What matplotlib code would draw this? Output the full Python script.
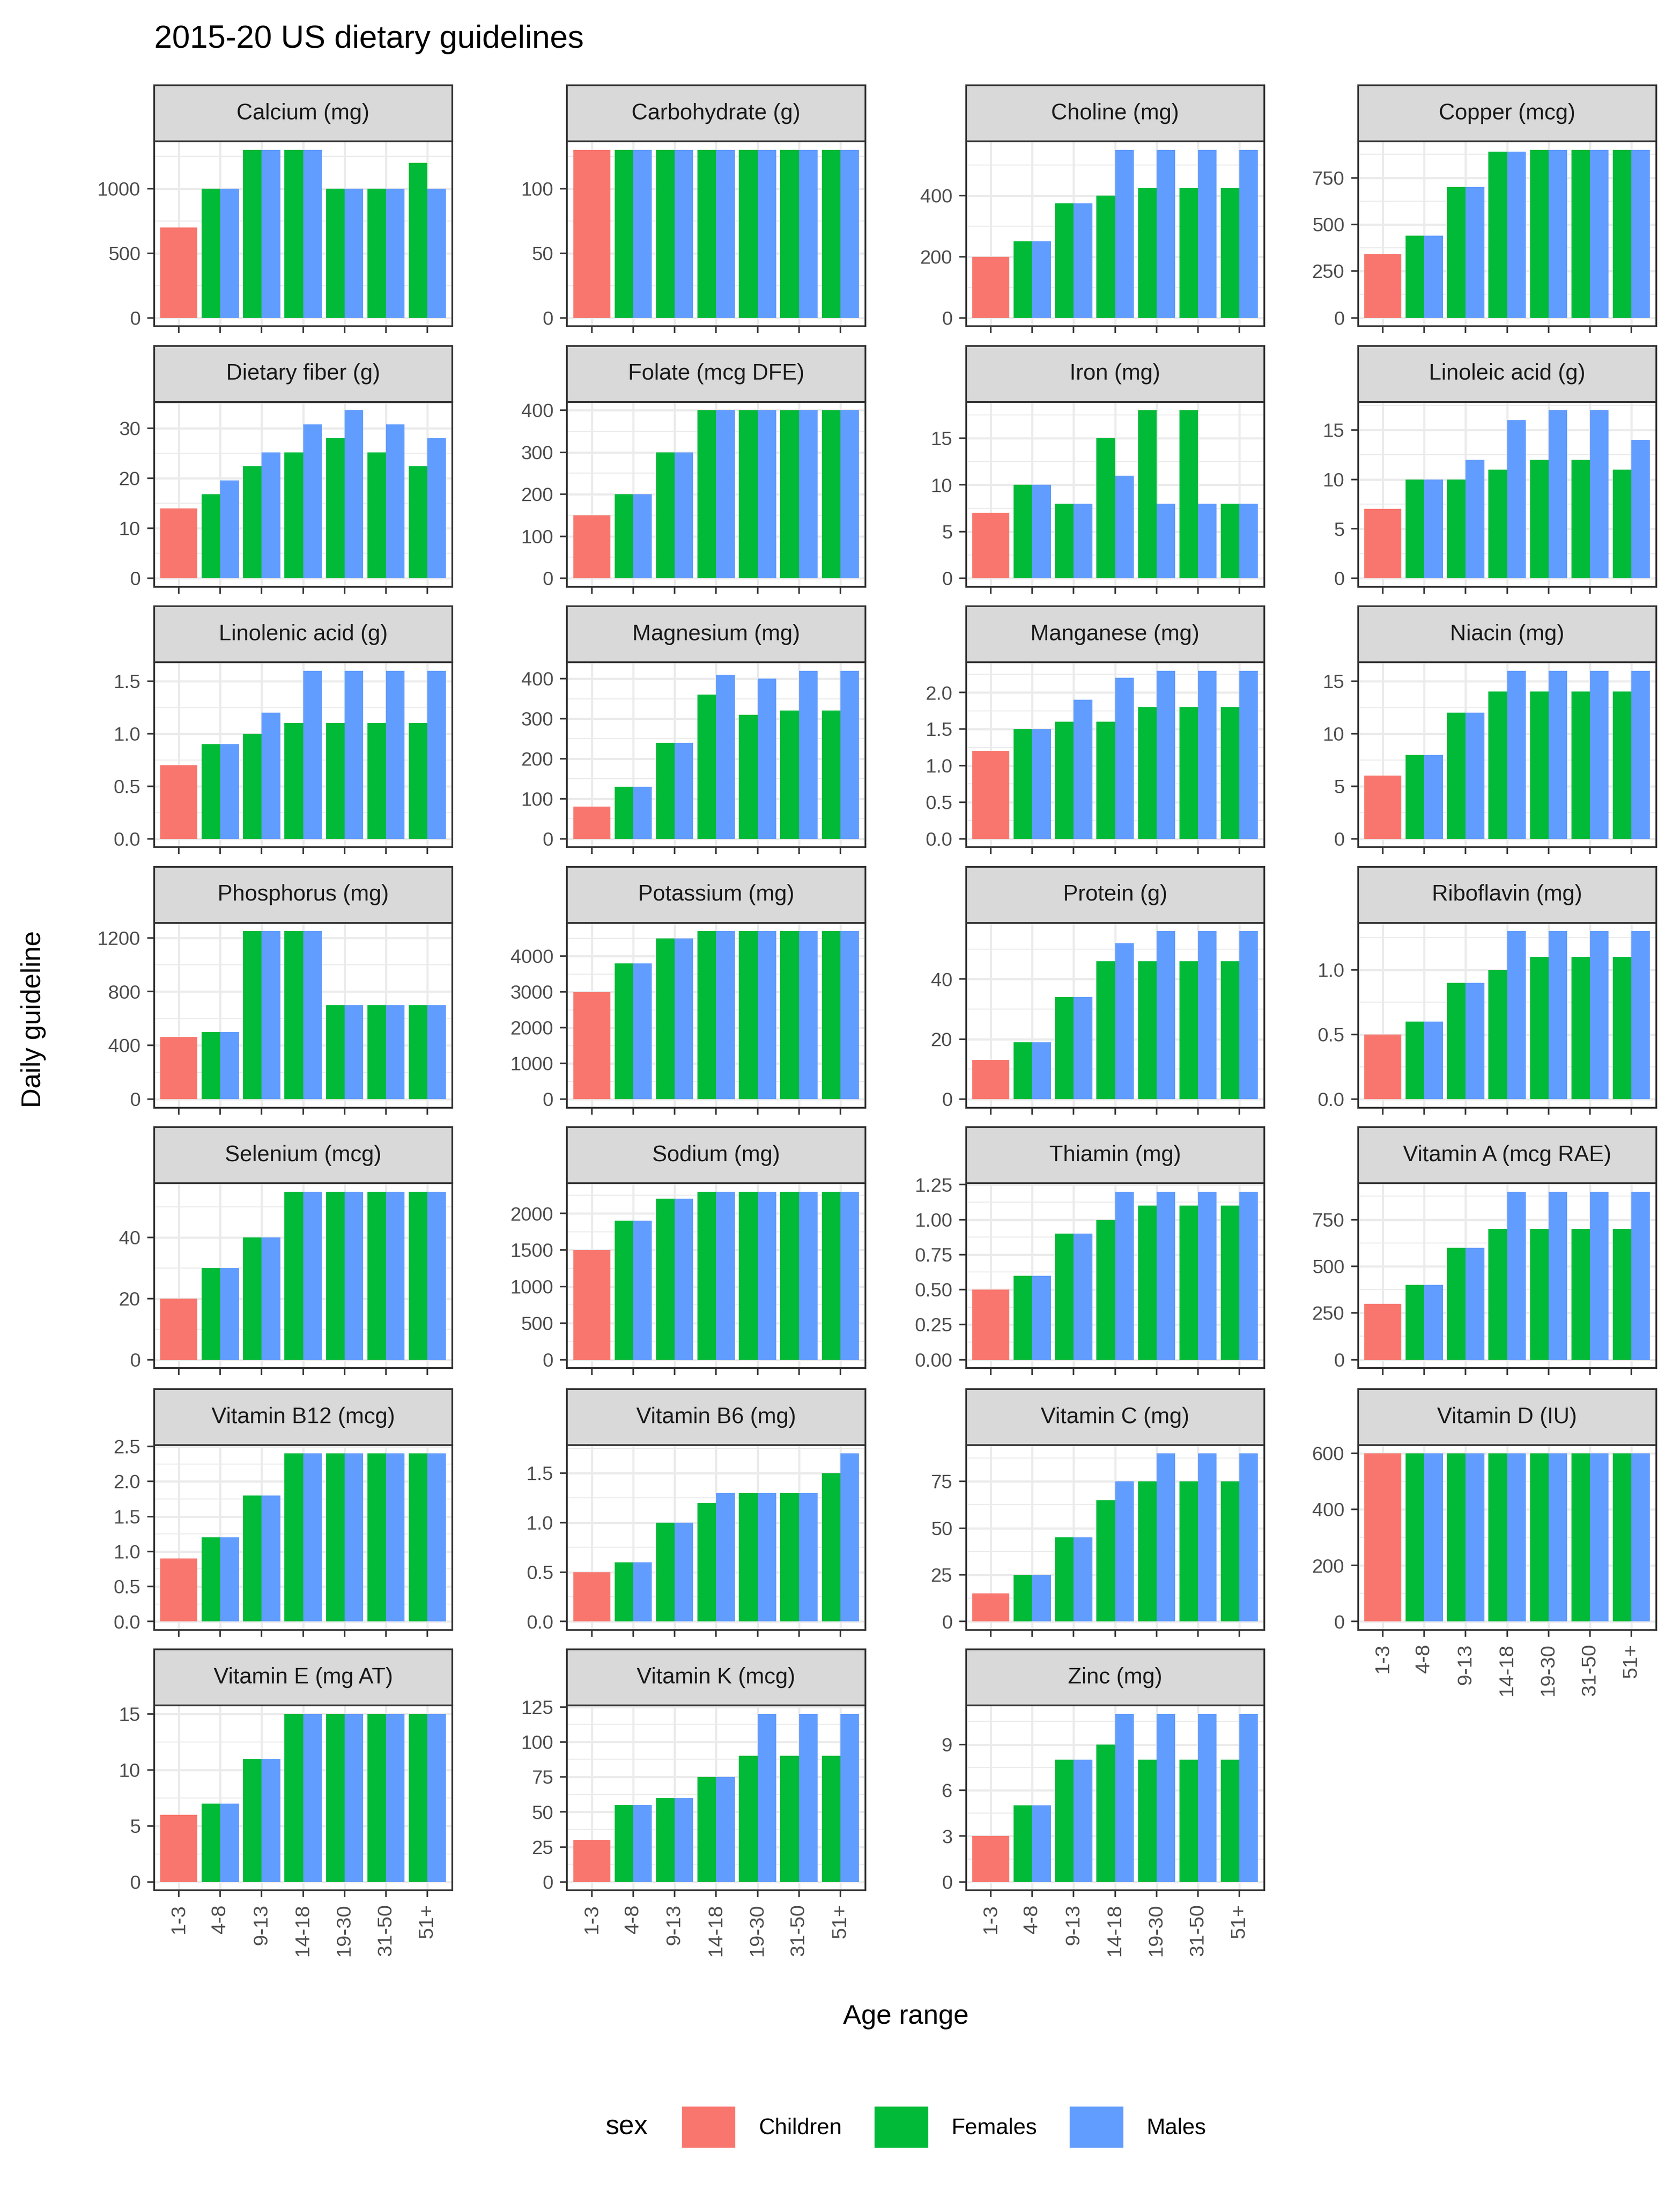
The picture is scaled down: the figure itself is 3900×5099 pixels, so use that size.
import numpy as np
import matplotlib.pyplot as plt
from matplotlib.patches import Rectangle, Patch

plt.rcParams['font.family'] = ['Liberation Sans', 'DejaVu Sans']

ages = ["1-3", "4-8", "9-13", "14-18", "19-30", "31-50", "51+"]

# name, children (1-3), females (4-8..51+), males (4-8..51+), tick step
nutrients = [
    ("Calcium (mg)", 700, [1000, 1300, 1300, 1000, 1000, 1200], [1000, 1300, 1300, 1000, 1000, 1000], 500),
    ("Carbohydrate (g)", 130, [130] * 6, [130] * 6, 50),
    ("Choline (mg)", 200, [250, 375, 400, 425, 425, 425], [250, 375, 550, 550, 550, 550], 200),
    ("Copper (mcg)", 340, [440, 700, 890, 900, 900, 900], [440, 700, 890, 900, 900, 900], 250),
    ("Dietary fiber (g)", 14, [16.8, 22.4, 25.2, 28, 25.2, 22.4], [19.6, 25.2, 30.8, 33.6, 30.8, 28], 10),
    ("Folate (mcg DFE)", 150, [200, 300, 400, 400, 400, 400], [200, 300, 400, 400, 400, 400], 100),
    ("Iron (mg)", 7, [10, 8, 15, 18, 18, 8], [10, 8, 11, 8, 8, 8], 5),
    ("Linoleic acid (g)", 7, [10, 10, 11, 12, 12, 11], [10, 12, 16, 17, 17, 14], 5),
    ("Linolenic acid (g)", 0.7, [0.9, 1.0, 1.1, 1.1, 1.1, 1.1], [0.9, 1.2, 1.6, 1.6, 1.6, 1.6], 0.5),
    ("Magnesium (mg)", 80, [130, 240, 360, 310, 320, 320], [130, 240, 410, 400, 420, 420], 100),
    ("Manganese (mg)", 1.2, [1.5, 1.6, 1.6, 1.8, 1.8, 1.8], [1.5, 1.9, 2.2, 2.3, 2.3, 2.3], 0.5),
    ("Niacin (mg)", 6, [8, 12, 14, 14, 14, 14], [8, 12, 16, 16, 16, 16], 5),
    ("Phosphorus (mg)", 460, [500, 1250, 1250, 700, 700, 700], [500, 1250, 1250, 700, 700, 700], 400),
    ("Potassium (mg)", 3000, [3800, 4500, 4700, 4700, 4700, 4700], [3800, 4500, 4700, 4700, 4700, 4700], 1000),
    ("Protein (g)", 13, [19, 34, 46, 46, 46, 46], [19, 34, 52, 56, 56, 56], 20),
    ("Riboflavin (mg)", 0.5, [0.6, 0.9, 1.0, 1.1, 1.1, 1.1], [0.6, 0.9, 1.3, 1.3, 1.3, 1.3], 0.5),
    ("Selenium (mcg)", 20, [30, 40, 55, 55, 55, 55], [30, 40, 55, 55, 55, 55], 20),
    ("Sodium (mg)", 1500, [1900, 2200, 2300, 2300, 2300, 2300], [1900, 2200, 2300, 2300, 2300, 2300], 500),
    ("Thiamin (mg)", 0.5, [0.6, 0.9, 1.0, 1.1, 1.1, 1.1], [0.6, 0.9, 1.2, 1.2, 1.2, 1.2], 0.25),
    ("Vitamin A (mcg RAE)", 300, [400, 600, 700, 700, 700, 700], [400, 600, 900, 900, 900, 900], 250),
    ("Vitamin B12 (mcg)", 0.9, [1.2, 1.8, 2.4, 2.4, 2.4, 2.4], [1.2, 1.8, 2.4, 2.4, 2.4, 2.4], 0.5),
    ("Vitamin B6 (mg)", 0.5, [0.6, 1.0, 1.2, 1.3, 1.3, 1.5], [0.6, 1.0, 1.3, 1.3, 1.3, 1.7], 0.5),
    ("Vitamin C (mg)", 15, [25, 45, 65, 75, 75, 75], [25, 45, 75, 90, 90, 90], 25),
    ("Vitamin D (IU)", 600, [600] * 6, [600] * 6, 200),
    ("Vitamin E (mg AT)", 6, [7, 11, 15, 15, 15, 15], [7, 11, 15, 15, 15, 15], 5),
    ("Vitamin K (mcg)", 30, [55, 60, 75, 90, 90, 90], [55, 60, 75, 120, 120, 120], 25),
    ("Zinc (mg)", 3, [5, 8, 9, 8, 8, 8], [5, 8, 11, 11, 11, 11], 3),
]

c_child, c_fem, c_male = "#F8766D", "#00BA38", "#619CFF"

W, H = 1200, 1569
fig = plt.figure(figsize=(12, 15.69), dpi=325)

col_left = [110, 405, 690, 970]
pw = 213
strip_tops = [61, 247, 433, 619, 805, 992, 1178]
sh, ph = 40, 132

for i, (name, child, fem, male, step) in enumerate(nutrients):
    r, c = divmod(i, 4)
    st = strip_tops[r]
    ax = fig.add_axes([col_left[c] / W, 1 - (st + sh + ph) / H, pw / W, ph / H])
    x = np.arange(len(ages))
    ax.bar(x[0], child, width=0.9, color=c_child, zorder=2)
    ax.bar(x[1:] - 0.225, fem, width=0.45, color=c_fem, zorder=2)
    ax.bar(x[1:] + 0.225, male, width=0.45, color=c_male, zorder=2)
    ymax = max([child] + fem + male)
    ax.set_ylim(-0.05 * ymax, ymax * 1.05)
    ax.set_xlim(-0.6, 6.6)
    ticks = np.arange(0, ymax * 1.05 + 1e-9, step)
    ax.set_yticks(ticks)
    labs = []
    for t in ticks:
        if step < 1:
            labs.append(f"{t:.2f}" if step == 0.25 else f"{t:.1f}")
        else:
            labs.append(f"{t:g}")
    ax.set_yticklabels(labs)
    minor = np.arange(step / 2, ymax * 1.05, step)
    ax.set_yticks(minor, minor=True)
    ax.set_xticks(x)
    ax.grid(True, which='major', color='#EBEBEB', lw=1.1, zorder=0)
    ax.grid(True, which='minor', axis='y', color='#EBEBEB', lw=0.55, zorder=0)
    ax.tick_params(axis='y', which='minor', length=0)
    ax.tick_params(axis='both', which='major', labelsize=10, color='#333333', labelcolor='#4D4D4D', length=3.5)
    for s in ax.spines.values():
        s.set_color('#333333')
        s.set_linewidth(0.9)
    bottom_row = (r == 6) or (c == 3 and r == 5)
    if bottom_row:
        ax.set_xticklabels(ages, rotation=90, fontsize=10.5)
    else:
        ax.set_xticklabels([])
    sax = fig.add_axes([col_left[c] / W, 1 - (st + sh) / H, pw / W, sh / H])
    sax.set_xticks([]); sax.set_yticks([])
    sax.set_facecolor('#D9D9D9')
    for s in sax.spines.values():
        s.set_color('#333333')
        s.set_linewidth(0.9)
    sax.text(0.5, 0.5, name, ha='center', va='center', fontsize=11.5, color='#1A1A1A', transform=sax.transAxes)

fig.text(110 / W, 1 - 28 / H, "2015-20 US dietary guidelines", fontsize=16.5, va='center', ha='left')
fig.text(24 / W, 1 - 728 / H, "Daily guideline", fontsize=14, rotation=90, va='center', ha='center')
fig.text(647 / W, 1 - 1440 / H, "Age range", fontsize=14, va='center', ha='center')

handles = [Patch(color=c_child, label="Children"), Patch(color=c_fem, label="Females"), Patch(color=c_male, label="Males")]
fig.legend(handles=handles, loc='center', bbox_to_anchor=(647 / W, 1 - 1519 / H), ncol=3, frameon=False,
           title="sex", fontsize=11.5, title_fontsize=14, handlelength=2.3, handleheight=2.3,
           columnspacing=1.5, handletextpad=1.1, alignment='left')
leg = fig.legends[0]
leg._legend_box.align = "left"
# put title on the left of the row
from matplotlib.offsetbox import HPacker
lb = leg._legend_box
lb._children = [HPacker(children=lb._children, pad=0, sep=18, align='center')]

fig.savefig("out.png", dpi=325)
